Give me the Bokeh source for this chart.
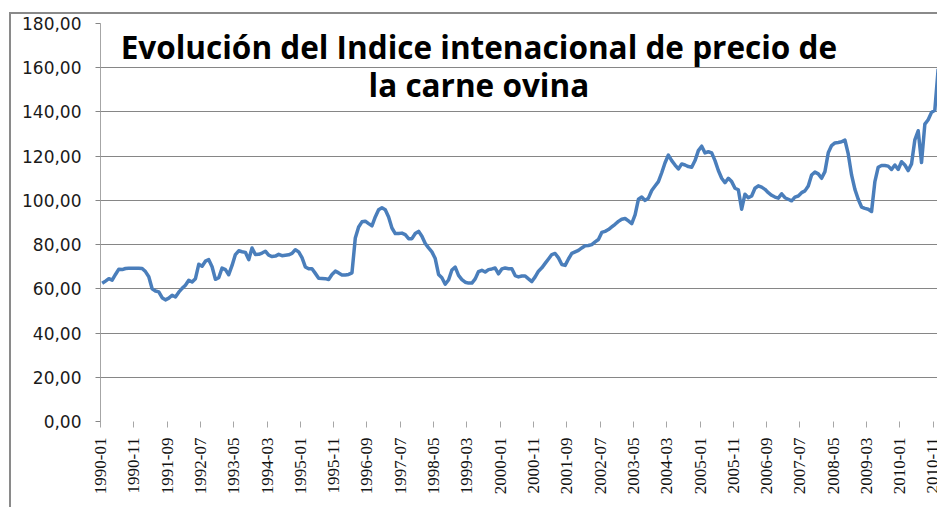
import math
from bokeh.plotting import figure
from bokeh.models import Range1d, FixedTicker, Label
from bokeh.embed import file_html
from bokeh.resources import INLINE

# Monthly index values, 1990-01 .. 2010-12
values = [
    62.5, 63.5, 64.6, 63.9, 66.5, 68.9, 68.7, 69.2, 69.3, 69.3,
    69.3, 69.3, 69.2, 67.8, 65.5, 60.0, 59.0, 58.6, 56.0, 55.0,
    55.8, 57.1, 56.3, 58.5, 60.2, 61.6, 63.9, 63.1, 64.6, 71.1,
    70.2, 72.5, 73.2, 70.0, 64.3, 65.0, 69.4, 68.7, 66.4, 70.6,
    75.5, 77.2, 76.8, 76.5, 73.2, 78.5, 75.5, 75.6, 76.2, 77.0,
    75.2, 74.6, 74.8, 75.6, 75.0, 75.2, 75.4, 76.0, 77.7, 76.7,
    74.1, 69.9, 69.1, 69.1, 67.0, 64.8, 64.7, 64.6, 64.2, 66.5,
    68.0, 67.2, 66.3, 66.3, 66.5, 67.2, 83.0, 88.0, 90.3, 90.6,
    89.5, 88.5, 92.5, 95.8, 96.7, 95.8, 92.5, 87.5, 85.0, 85.0,
    85.2, 84.5, 82.7, 82.7, 85.0, 86.0, 83.8, 80.5, 78.5, 76.7,
    73.7, 66.5, 65.0, 62.1, 64.0, 68.5, 69.8, 66.1, 64.2, 63.0,
    62.6, 62.6, 64.5, 67.8, 68.4, 67.6, 68.7, 69.0, 69.4, 66.8,
    69.0, 69.4, 69.1, 69.1, 66.0, 65.4, 65.8, 65.8, 64.5, 63.3,
    65.4, 68.0, 69.5, 71.5, 73.5, 75.5, 76.0, 74.0, 71.0, 70.6,
    73.5, 76.0, 76.7, 77.4, 78.5, 79.5, 79.6, 80.0, 81.2, 82.3,
    85.5, 86.0, 86.8, 88.0, 89.2, 90.5, 91.5, 91.8, 90.7, 89.5,
    93.5, 100.5, 101.5, 100.0, 101.0, 104.5, 106.5, 108.5, 112.5, 117.0,
    120.5, 118.0, 116.0, 114.2, 116.5, 116.0, 115.3, 115.0, 118.0, 122.5,
    124.5, 121.5, 122.0, 121.5, 118.0, 113.5, 110.0, 108.0, 110.0, 108.5,
    105.5, 104.8, 96.0, 102.8, 101.2, 102.0, 105.5, 106.6, 106.0, 105.0,
    103.5, 102.3, 101.5, 101.0, 103.0, 101.2, 100.5, 99.8, 101.5, 102.0,
    103.5, 104.3, 106.5, 111.5, 112.8, 112.0, 110.0, 113.0, 121.5, 124.8,
    126.0, 126.2, 126.5, 127.3, 121.0, 111.5, 105.0, 100.5, 97.0, 96.4,
    96.0, 95.0, 108.5, 115.0, 115.8, 115.8, 115.5, 114.0, 116.0, 114.0,
    117.5, 116.0, 113.5, 116.5, 127.4, 131.5, 117.1, 134.5, 136.5, 139.8,
    140.8, 159.5,
]

x_tick_labels = [
    "1990-01", "1990-11", "1991-09", "1992-07", "1993-05", "1994-03",
    "1995-01", "1995-11", "1996-09", "1997-07", "1998-05", "1999-03",
    "2000-01", "2000-11", "2001-09", "2002-07", "2003-05", "2004-03",
    "2005-01", "2005-11", "2006-09", "2007-07", "2008-05", "2009-03",
    "2010-01", "2010-11",
]
label_step = 10

y_ticks = [0, 20, 40, 60, 80, 100, 120, 140, 160, 180]
y_tick_labels = ["0,00", "20,00", "40,00", "60,00", "80,00", "100,00",
                 "120,00", "140,00", "160,00", "180,00"]

title_lines = ["Evolución del Indice intenacional de precio de", "la carne ovina"]

# points sit in the middle of each monthly category
months = [i + 0.5 for i in range(len(values))]
x_ticks = [i * label_step for i in range(len(x_tick_labels))]

p = figure(width=928, height=495, output_backend="svg", toolbar_location=None,
           x_range=Range1d(0, 251.9), y_range=Range1d(0, 180),
           min_border_left=89, min_border_right=0, min_border_top=9,
           min_border_bottom=88)
p.styles = {"border-left": "2px solid #8a8a8a", "border-top": "2px solid #8a8a8a",
            "margin-left": "9px", "margin-top": "12px"}
p.outline_line_color = None
p.background_fill_color = "white"
p.border_fill_color = "white"

# x axis
p.xaxis.ticker = FixedTicker(ticks=x_ticks)
p.xaxis.major_label_overrides = {t: lab for t, lab in zip(x_ticks, x_tick_labels)}
p.xaxis.major_label_orientation = math.pi / 2
p.xaxis.axis_line_color = None
p.xaxis.major_tick_in = 0
p.xaxis.major_tick_out = 6
p.xaxis.major_tick_line_color = "#a6a6a6"
p.xaxis.minor_tick_line_color = None
p.xaxis.major_label_standoff = 10
p.xaxis.major_label_text_font = "Liberation Sans Narrow"
p.xaxis.major_label_text_font_size = "17px"
p.xaxis.major_label_text_color = "#111111"
p.xgrid.grid_line_color = None

# y axis
p.yaxis.ticker = FixedTicker(ticks=y_ticks)
p.yaxis.major_label_overrides = {t: lab for t, lab in zip(y_ticks, y_tick_labels)}
p.yaxis.axis_line_color = "#a6a6a6"
p.yaxis.major_tick_in = 0
p.yaxis.major_tick_out = 5
p.yaxis.major_tick_line_color = "#868686"
p.yaxis.minor_tick_line_color = None
p.yaxis.major_label_standoff = 14
p.yaxis.major_label_text_font = "DejaVu Sans"
p.yaxis.major_label_text_font_size = "17px"
p.yaxis.major_label_text_color = "#1a1a1a"
p.ygrid.ticker = FixedTicker(ticks=y_ticks)
p.ygrid.grid_line_color = "#868686"
p.ygrid.grid_line_width = 1

p.line(months, values, line_color="#4a7ebb", line_width=3.5, line_join="round")

title_y = [169.8, 152.6]
for txt, ty in zip(title_lines, title_y):
    p.add_layout(Label(x=113.6, y=ty, text=txt, text_align="center",
                       text_baseline="alphabetic", text_font="Open Sans",
                       text_font_style="bold", text_font_size="31.5px",
                       text_color="black"))

open("out.html", "w").write(file_html(p, INLINE))
